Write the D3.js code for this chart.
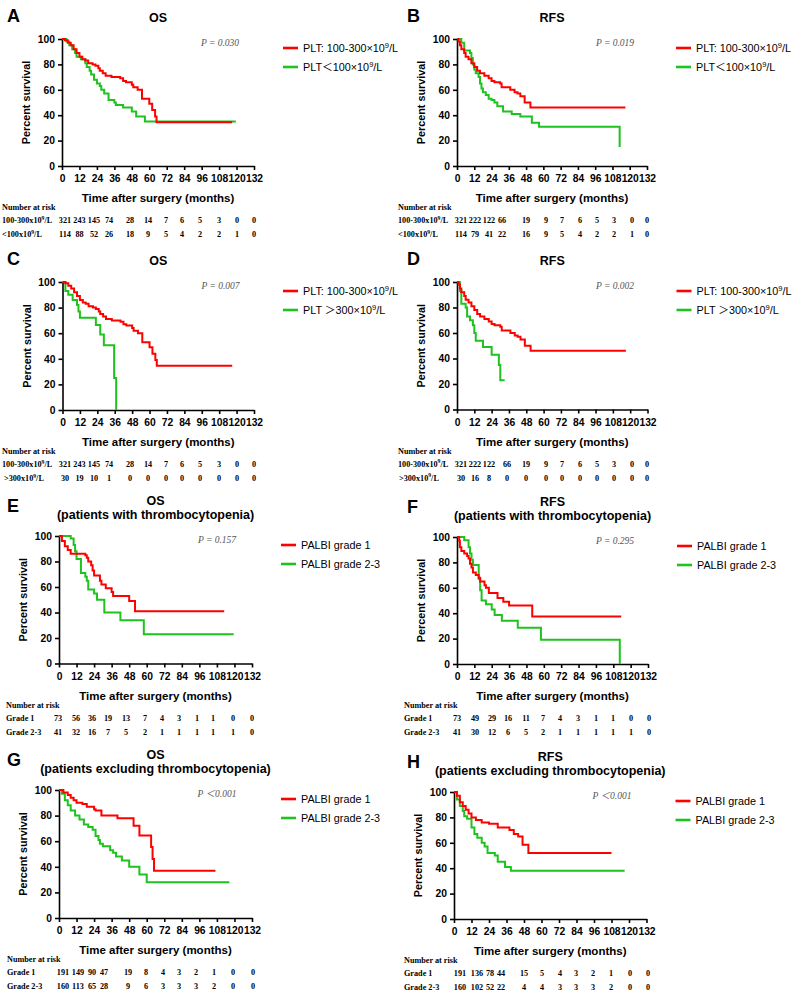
<!DOCTYPE html>
<html><head><meta charset="utf-8">
<script src="https://cdn.jsdelivr.net/npm/d3@7"></script>
<style>body{margin:0;background:#fff}svg{display:block}</style>
</head><body>
<svg id="chart" width="796" height="992"></svg>
<script>
// ---------- DATA ----------
const timeTicks = [0,12,24,36,48,60,72,84,96,108,120,132];
const survTicks = [0,20,40,60,80,100];

// Kaplan-Meier steps: [month, percent survival]
const osPltNormal = [[0,100],[2,99],[4,97],[6,95],[8,92],[10,89],[12,86],[14,84],[16,83],[18,81],[21,80],[23,79],[25,77],[26,75],[28,73],[30,71],[34,70],[40,69],[42,67],[44,66],[48,64],[49,62],[52,60],[55,53],[60,49],[62,44],[64,39],[65,34.5],[117,34.5]];
const osPltLow = [[0,100],[3,98],[5,95],[7,92],[9,89],[10,86],[13,84],[16,81],[17,78],[19,75],[20,72],[22,68],[24,65],[26,63],[27,60],[29,57],[32,52],[36,50],[37,48],[42,46],[48,43],[51,39],[57,35],[119.5,35]];
const rfsPltNormal = [[0,100],[1,98],[2,95],[3,92],[5,89],[6,86],[8,84],[10,81],[12,78],[14,75],[16,73],[19,71],[22,69],[24,67],[26,66],[30,65],[31,62],[37,60],[40,58],[42,57],[44,55],[47,50],[51,46],[117,46]];
const rfsPltLow = [[0,100],[3,97],[5,91],[9,89],[10,85],[11,80],[12,76],[13,73],[15,70],[16,65],[17,61],[18,58],[20,56],[22,53],[24,52],[26,50],[28,47],[32,43],[38,41],[44,39],[52,34],[57,31],[113,15]];
const osPltHigh = [[0,100],[2,93],[4,90],[7,86],[10,82],[11,77],[12,72],[23,66.5],[26,59],[28.5,50.5],[35.6,25],[37,0]];
const rfsPltHigh = [[0,100],[2,93],[3,83],[6,80],[7,73],[9,70],[11,66],[12,60],[13,54],[18,49],[24,43],[29,35],[30,23],[33,23]];
const osThrombG1 = [[0,100],[2,96],[4,92],[6,89],[8,86],[18,85],[19,83],[20,80],[22,77],[23,73],[24,69],[28,65],[29,62],[32,59],[36,56],[37,53],[48,49],[52,41],[113,41]];
const osThrombG23 = [[0,100],[8,98],[10,93],[11,88],[12,82],[15,71],[18,68],[19,65],[20,58],[24,55],[26,50],[31,40],[42,34],[58,23],[119.5,23]];
const rfsThrombG1 = [[0,100],[1.5,97],[2,92],[3,89],[5,87],[7,85],[8,83],[9,79],[10,76],[11,72],[13,70],[15,68],[16,65],[19,62],[20,60],[22,56],[28,52],[32,49],[36,46],[52,37.5],[113.5,37.5]];
const rfsThrombG23 = [[0,100],[5,97.5],[8,92],[9,87],[10,82],[11,78],[15,67],[16,58],[17,50],[20,47],[24,43],[26,38.5],[31,34],[42,28.5],[58,19],[112.5,0]];
const osExclG1 = [[0,100],[3,98],[6,96],[8,94],[10,92],[12,90],[16,89],[19,87],[24,85],[25,84],[29,80],[40,78],[51,72],[55,64.5],[63,55.5],[64,46],[65,37],[107,37]];
const osExclG23 = [[0,100],[2,97],[4,92],[6,88],[8,84],[11,80],[14,77],[17,73],[20,71],[23,69],[25,64],[27,61],[28,58],[30,56],[35,53],[37,51],[39,48],[43,45],[48,40],[55,34],[60,28],[116.5,28]];
const rfsExclG1 = [[0,100],[2,97],[4,92],[6,89],[8,86],[10,83],[12,80],[15,78],[19,76],[24,75],[30,72],[38,70],[41,67],[44,65],[47,58.5],[51,52],[108,52]];
const rfsExclG23 = [[0,100],[2,94],[4,89],[6,85],[7,81],[9,79],[12,72],[14,67],[16,64],[19,60],[21,57],[23,52],[28,50],[30,45],[35,41],[39,38],[117,38]];

// numbers at risk
const riskOsNormal  = [321,243,145,74,28,14,7,6,5,3,0,0];
const riskOsLow     = [114,88,52,26,18,9,5,4,2,2,1,0];
const riskRfsNormal = [321,222,122,66,19,9,7,6,5,3,0,0];
const riskRfsLow    = [114,79,41,22,16,9,5,4,2,2,1,0];
const riskOsHigh    = [30,19,10,1,0,0,0,0,0,0,0,0];
const riskRfsHigh   = [30,16,8,0,0,0,0,0,0,0,0,0];
const riskOsThG1    = [73,56,36,19,13,7,4,3,1,1,0,0];
const riskOsThG23   = [41,32,16,7,5,2,1,1,1,1,1,0];
const riskRfsThG1   = [73,49,29,16,11,7,4,3,1,1,0,0];
const riskRfsThG23  = [41,30,12,6,5,2,1,1,1,1,1,0];
const riskOsExG1    = [191,149,90,47,19,8,4,3,2,1,0,0];
const riskOsExG23   = [160,113,65,28,9,6,3,3,3,2,0,0];
const riskRfsExG1   = [191,136,78,44,15,5,4,3,2,1,0,0];
const riskRfsExG23  = [160,102,52,22,4,4,3,3,3,2,0,0];

const panelLetters = ['A','B','C','D','E','F','G','H'];
const panelTitles = [['OS'],['RFS'],['OS'],['RFS'],
  ['OS','(patients with thrombocytopenia)'],['RFS','(patients with thrombocytopenia)'],
  ['OS','(patients excluding thrombocytopenia)'],['RFS','(patients excluding thrombocytopenia)']];
const pValues = ['P = 0.030','P = 0.019','P = 0.007','P = 0.002','P = 0.157','P = 0.295','P \uFF1C0.001','P \uFF1C0.001'];
const legNormal = 'PLT: 100-300\u00D710^9/L';
const legLow = 'PLT\uFF1C100\u00D710^9/L';
const legHigh = 'PLT \uFF1E300\u00D710^9/L';
const legG1 = 'PALBI grade 1';
const legG23 = 'PALBI grade 2-3';
const rowNormal = '100-300x10^9/L', rowLow = '<100x10^9/L', rowHigh = '>300x10^9/L';
const rowG1 = 'Grade 1', rowG23 = 'Grade 2-3';
const yTitle = 'Percent survival';
const xTitle = 'Time after surgery (months)';
const riskTitle = 'Number at risk';

// ---------- LAYOUT ----------
const RED = '#ff0000', GREEN = '#1fc21f';
const SANS = "'Liberation Sans', Arial, 'Noto Sans CJK SC', sans-serif";
const SERIF = "'Liberation Serif', 'Times New Roman', 'Noto Sans CJK SC', serif";

const panels = [
 {left:62, right:254, top:39, bottom:166, labX:2, labX2:2,
  curves:[[osPltLow,GREEN],[osPltNormal,RED]], legend:[[legNormal,RED],[legLow,GREEN]],
  rows:[[rowNormal,riskOsNormal],[rowLow,riskOsLow]], riskX:[3,17.5,32,47,68,86,104,120,138,157,175,192]},
 {left:457, right:647, top:39, bottom:166, labX:398, labX2:398,
  curves:[[rfsPltLow,GREEN],[rfsPltNormal,RED]], legend:[[legNormal,RED],[legLow,GREEN]],
  rows:[[rowNormal,riskRfsNormal],[rowLow,riskRfsLow]], riskX:[4,18,32,45,69,89,105,123,140,157,175,190]},
 {left:62.5, right:254, top:282, bottom:410, labX:2, labX2:4,
  curves:[[osPltHigh,GREEN],[osPltNormal,RED]], legend:[[legNormal,RED],[legHigh,GREEN]],
  rows:[[rowNormal,riskOsNormal],[rowHigh,riskOsHigh]], riskX:[2.5,17,31.5,46.5,67.5,85.5,103.5,119.5,137.5,156.5,174.5,191.5]},
 {left:457, right:647.5, top:282, bottom:409.5, labX:398, labX2:399,
  curves:[[rfsPltHigh,GREEN],[rfsPltNormal,RED]], legend:[[legNormal,RED],[legHigh,GREEN]],
  rows:[[rowNormal,riskRfsNormal],[rowHigh,riskRfsHigh]], riskX:[4,18,32,50,69,89,105,123,140,157,175,190]},
 {left:59, right:252, top:536, bottom:663.5, labX:6, labX2:6,
  curves:[[osThrombG23,GREEN],[osThrombG1,RED]], legend:[[legG1,RED],[legG23,GREEN]],
  rows:[[rowG1,riskOsThG1],[rowG23,riskOsThG23]], riskX:[-1,17,33,49,67,86,103,120,138,154,174,193]},
 {left:457, right:648, top:537, bottom:664, labX:404, labX2:404,
  curves:[[rfsThrombG23,GREEN],[rfsThrombG1,RED]], legend:[[legG1,RED],[legG23,GREEN]],
  rows:[[rowG1,riskRfsThG1],[rowG23,riskRfsThG23]], riskX:[0,18,35,51,69,86,103,121,139,156,174,192]},
 {left:59, right:252, top:790, bottom:918, labX:7, labX2:7,
  curves:[[osExclG23,GREEN],[osExclG1,RED]], legend:[[legG1,RED],[legG23,GREEN]],
  rows:[[rowG1,riskOsExG1],[rowG23,riskOsExG23]], riskX:[4,19,33,45,69,87,104,120,137,155,174,194]},
 {left:454, right:646.5, top:792, bottom:919, labX:404, labX2:404,
  curves:[[rfsExclG23,GREEN],[rfsExclG1,RED]], legend:[[legG1,RED],[legG23,GREEN]],
  rows:[[rowG1,riskRfsExG1],[rowG23,riskRfsExG23]], riskX:[6,23,36,47,70,88,106,122,139,157,176,194]}
];

const svg = d3.select('#chart');

function supText(sel, str, fs) {
  const parts = str.split(/\^(\d)/);
  parts.forEach((t, i) => {
    if (!t) return;
    const sp = sel.append('tspan').text(t);
    if (i % 2 === 1) {
      sp.attr('font-size', fs * 0.7).attr('dy', -fs * 0.38);
    } else if (i > 0) {
      sp.attr('dy', fs * 0.38);
    }
  });
}

panels.forEach((p, i) => {
  const g = svg.append('g');
  const x = d3.scaleLinear().domain([0, 132]).range([p.left, p.right]);
  const y = d3.scaleLinear().domain([0, 100]).range([p.bottom, p.top]);
  const two = panelTitles[i].length === 2;
  const cx = (p.left + p.right) / 2;

  // letter
  g.append('text').attr('x', p.left > 400 ? 407 : 7)
    .attr('y', p.top - (two ? 24 : 17)).attr('font-family', SANS).attr('font-weight', 'bold')
    .attr('font-size', 18).text(panelLetters[i]);

  // titles
  panelTitles[i].forEach((t, k) => {
    const base = two ? (k === 0 ? p.top - 31 : p.top - 17) : p.top - 17;
    g.append('text').attr('x', cx).attr('y', base).attr('text-anchor', 'middle')
      .attr('font-family', SANS).attr('font-weight', 'bold').attr('font-size', 12.5).text(t);
  });

  // axes
  const xa = g.append('g').attr('transform', `translate(0,${p.bottom})`)
    .call(d3.axisBottom(x).tickValues(timeTicks).tickSize(4).tickSizeOuter(0).tickPadding(5));
  const ya = g.append('g').attr('transform', `translate(${p.left},0)`)
    .call(d3.axisLeft(y).tickValues(survTicks).tickSize(4).tickSizeOuter(0).tickPadding(3));
  [xa, ya].forEach(a => {
    a.select('.domain').attr('stroke', '#000').attr('stroke-width', 1.6);
    a.selectAll('.tick line').attr('stroke', '#000').attr('stroke-width', 1.6);
    a.selectAll('.tick text').attr('font-family', SANS).attr('font-weight', 'bold')
      .attr('font-size', 10.3).attr('fill', '#000');
  });

  // axis titles
  g.append('text').attr('transform', `translate(${p.left - 32},${(p.top + p.bottom) / 2}) rotate(-90)`)
    .attr('text-anchor', 'middle').attr('font-family', SANS).attr('font-weight', 'bold')
    .attr('font-size', 10.8).text(yTitle);
  g.append('text').attr('x', cx).attr('y', p.bottom + 36).attr('text-anchor', 'middle')
    .attr('font-family', SANS).attr('font-weight', 'bold').attr('font-size', 11.5).text(xTitle);

  // curves
  const line = d3.line().x(d => x(d[0])).y(d => y(d[1])).curve(d3.curveStepAfter);
  p.curves.forEach(([data, col]) => {
    g.append('path').datum(data).attr('d', line).attr('fill', 'none')
      .attr('stroke', col).attr('stroke-width', 2);
  });

  // p value
  g.append('text').attr('x', p.left + 158).attr('y', p.top + 6.5).attr('text-anchor', 'middle')
    .attr('font-family', SERIF).attr('font-style', 'italic').attr('font-size', 9.5)
    .attr('fill', '#555').text(pValues[i]);

  // legend
  p.legend.forEach(([lab, col], k) => {
    const ly = p.top + 9 + k * 19;
    g.append('line').attr('x1', p.right + 29).attr('x2', p.right + 44).attr('y1', ly).attr('y2', ly)
      .attr('stroke', col).attr('stroke-width', 2.6);
    const t = g.append('text').attr('x', p.right + 49).attr('y', ly + 4)
      .attr('font-family', SANS).attr('font-size', 10.8).attr('fill', '#000');
    supText(t, lab, 10.8);
  });

  // number at risk
  const RF = 8.2;
  g.append('text').attr('x', p.labX).attr('y', p.bottom + 44).attr('font-family', SERIF)
    .attr('font-weight', 'bold').attr('font-size', RF).text(riskTitle);
  p.rows.forEach(([lab, vals], k) => {
    const ry = p.bottom + 57 + k * 14;
    const t = g.append('text').attr('x', k === 0 ? p.labX : p.labX2).attr('y', ry)
      .attr('font-family', SERIF).attr('font-weight', 'bold').attr('font-size', RF);
    supText(t, lab, RF);
    vals.forEach((v, j) => {
      g.append('text').attr('x', p.left + p.riskX[j]).attr('y', ry).attr('text-anchor', 'middle')
        .attr('font-family', SERIF).attr('font-weight', 'bold').attr('font-size', RF).text(v);
    });
  });
});
</script>
</body></html>
